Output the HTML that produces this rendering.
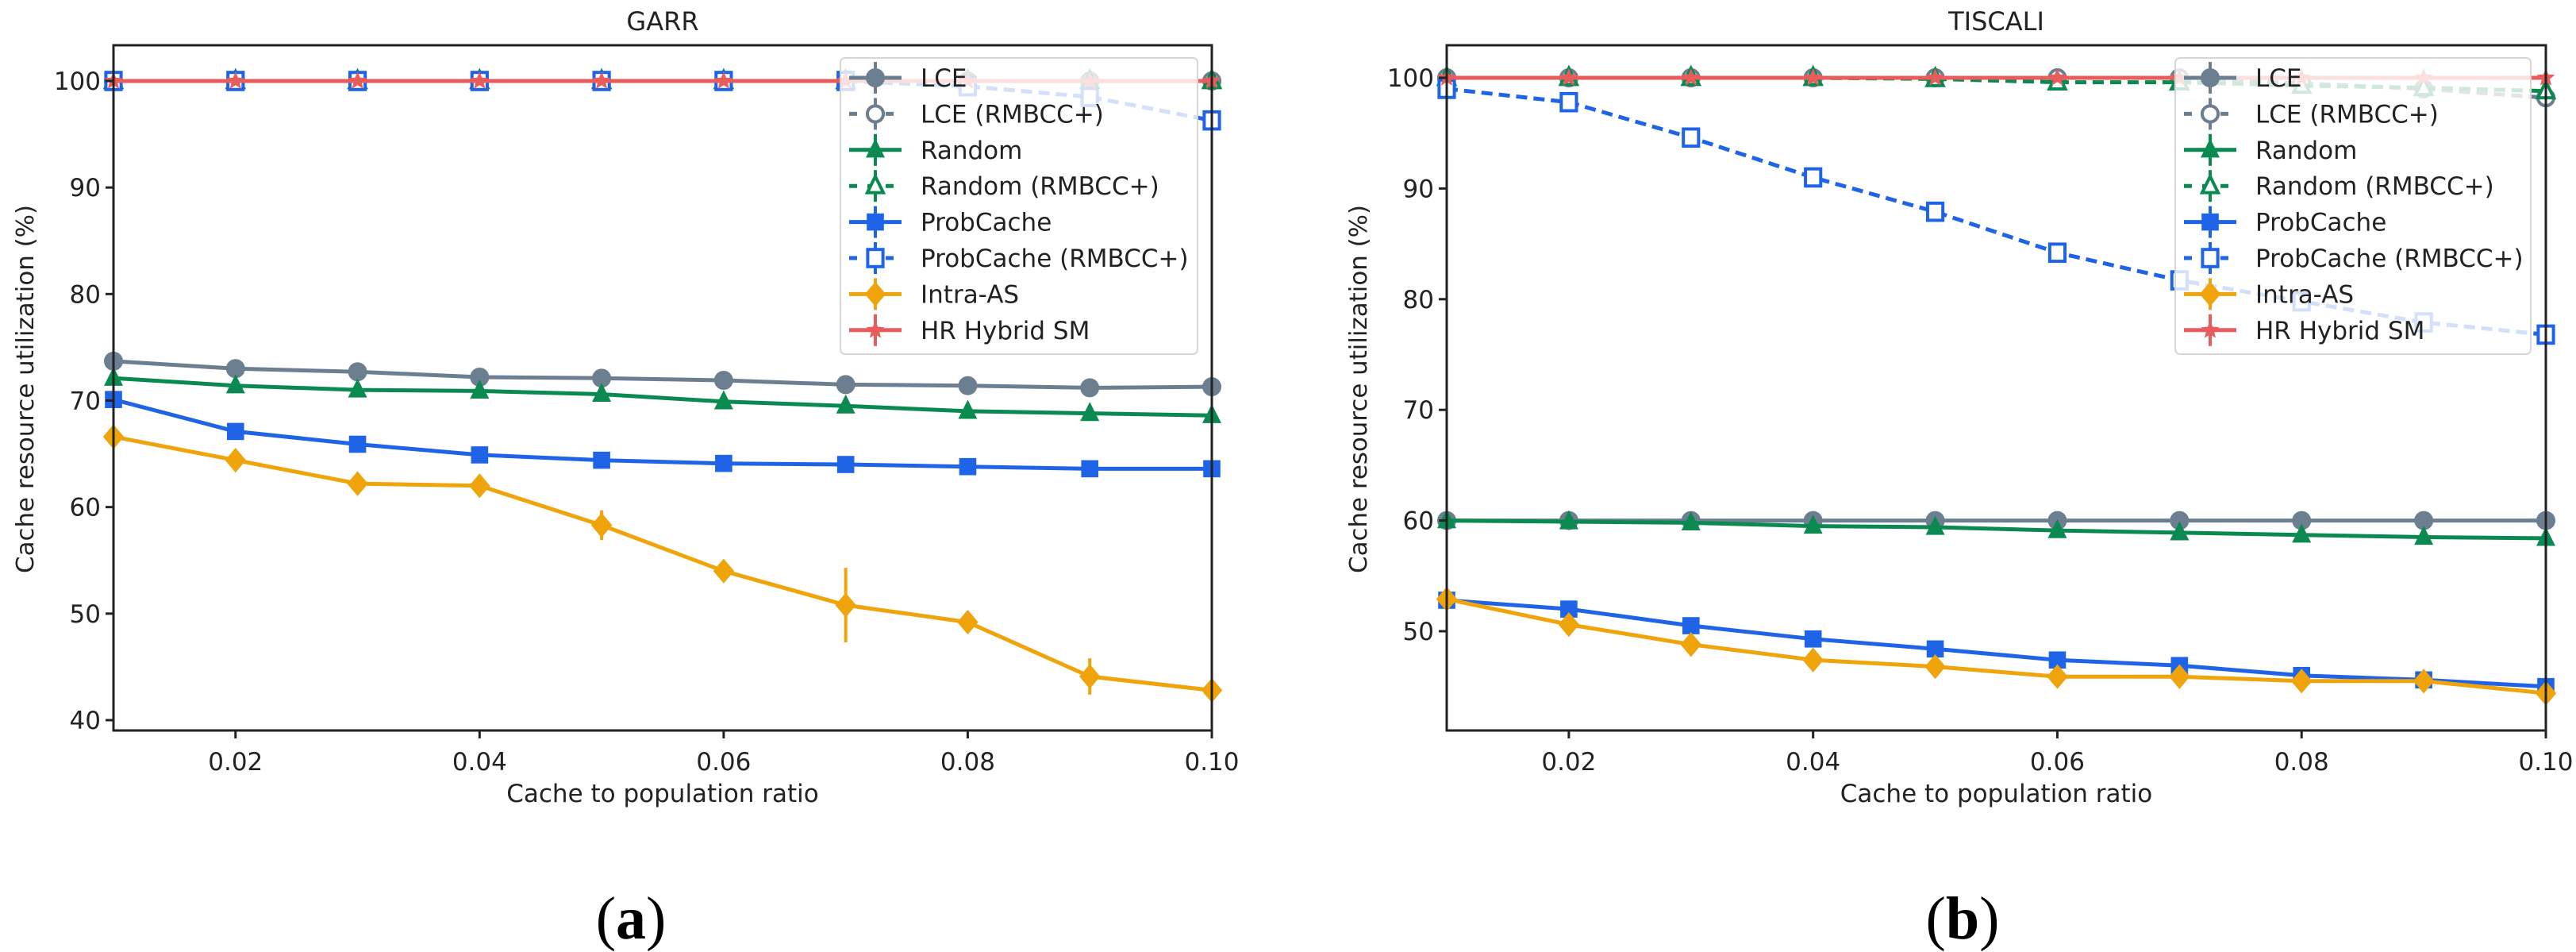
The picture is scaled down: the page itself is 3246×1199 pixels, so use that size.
<!DOCTYPE html>
<html><head><meta charset="utf-8">
<style>
html,body{margin:0;padding:0;background:#fff;}
svg{display:block;font-family:"DejaVu Sans","Liberation Sans",sans-serif;}
</style></head>
<body>
<svg id="fig" width="3246" height="1199" viewBox="0 0 3246 1199" xmlns="http://www.w3.org/2000/svg">
<rect width="3246" height="1199" fill="#fff"/>
</svg>
<script>
const xCats = [0.01,0.02,0.03,0.04,0.05,0.06,0.07,0.08,0.09,0.10];
const xTicks = [0.02,0.04,0.06,0.08,0.10];
const xTickLabels = ["0.02","0.04","0.06","0.08","0.10"];
const seriesNames = ["LCE","LCE (RMBCC+)","Random","Random (RMBCC+)","ProbCache","ProbCache (RMBCC+)","Intra-AS","HR Hybrid SM"];

const garrLCE = [73.7,73.0,72.7,72.2,72.1,71.9,71.5,71.4,71.2,71.3];
const garrLCEr = [100,100,100,100,100,100,100,100,100,100];
const garrRandom = [72.1,71.4,71.0,70.9,70.6,69.9,69.5,69.0,68.8,68.6];
const garrRandomR = [100,100,100,100,100,100,100,100,100,100];
const garrProb = [70.1,67.1,65.9,64.9,64.4,64.1,64.0,63.8,63.6,63.6];
const garrProbR = [100,100,100,100,100,100,100,99.5,98.5,96.3];
const garrIntra = [66.6,64.4,62.2,62.0,58.3,54.0,50.8,49.2,44.1,42.8];
const garrIntraErr = [0.8,0.8,1.0,1.0,1.4,0.8,3.5,1.0,1.7,0.5];
const garrHR = [100,100,100,100,100,100,100,100,100,100];
const garrYTicks = [40,50,60,70,80,90,100];

const tisLCE = [60,60,60,60,60,60,60,60,60,60];
const tisLCEr = [100,100,100,100,100,100,100,99.5,99.0,98.2];
const tisRandom = [60,59.9,59.8,59.5,59.4,59.1,58.9,58.7,58.5,58.4];
const tisRandomR = [100,100,100,100,99.9,99.6,99.6,99.3,99.1,98.8];
const tisProb = [52.8,52.0,50.5,49.3,48.4,47.4,46.9,46.0,45.6,45.0];
const tisProbR = [99.0,97.8,94.6,91.0,87.9,84.2,81.7,79.8,77.9,76.8];
const tisIntra = [52.9,50.6,48.8,47.4,46.8,45.9,45.9,45.5,45.5,44.4];
const tisIntraErr = [0.3,0.3,0.3,0.3,0.3,0.3,0.3,0.3,0.3,0.3];
const tisHR = [100,100,100,100,100,100,100,100,100,100];
const tisYTicks = [50,60,70,80,90,100];

const NS="http://www.w3.org/2000/svg";
const svg=document.getElementById('fig');
function mk(tag,attrs,parent){const e=document.createElementNS(NS,tag);for(const k in attrs)e.setAttribute(k,attrs[k]);(parent||svg).appendChild(e);return e;}

const C={lce:"#6c7f90",rnd:"#0a8a50",prob:"#1f64e6",intra:"#eea40a",hr:"#e85c5c"};

function marker(g,type,cx,cy,color,s){
  let e;
  if(type==="circle"){e=mk('circle',{cx:cx,cy:cy,r:s*0.5,fill:color},g);}
  else if(type==="ocircle"){e=mk('circle',{cx:cx,cy:cy,r:s*0.42,fill:"#fff",stroke:color,"stroke-width":4},g);}
  else if(type==="tri"){e=mk('polygon',{points:`${cx},${cy-s*0.6} ${cx+s*0.5},${cy+s*0.4} ${cx-s*0.5},${cy+s*0.4}`,fill:color},g);}
  else if(type==="otri"){e=mk('polygon',{points:`${cx},${cy-s*0.5} ${cx+s*0.42},${cy+s*0.35} ${cx-s*0.42},${cy+s*0.35}`,fill:"#fff",stroke:color,"stroke-width":4},g);}
  else if(type==="sq"){e=mk('rect',{x:cx-s*0.45,y:cy-s*0.45,width:s*0.9,height:s*0.9,fill:color},g);}
  else if(type==="osq"){e=mk('rect',{x:cx-s*0.4,y:cy-s*0.45,width:s*0.8,height:s*0.9,fill:"#fff",stroke:color,"stroke-width":4},g);}
  else if(type==="dia"){e=mk('polygon',{points:`${cx},${cy-s*0.65} ${cx+s*0.55},${cy} ${cx},${cy+s*0.65} ${cx-s*0.55},${cy}`,fill:color},g);}
  else if(type==="star"){let p=[];for(let i=0;i<10;i++){const r=i%2?s*0.22:s*0.5;const a=-Math.PI/2+i*Math.PI/5;p.push((cx+r*Math.cos(a)).toFixed(1)+","+(cy+r*Math.sin(a)).toFixed(1));}e=mk('polygon',{points:p.join(' '),fill:color},g);}
  return e;
}

function chart(o){
  const root=mk('g',{});
  
  
  const X=v=>o.x0+(v-0.01)/(0.09)*(o.x1-o.x0);
  const Y=v=>o.yA+(v-o.vA)/(o.vB-o.vA)*(o.yB-o.yA);
  const series=[
    {d:o.hr,c:C.hr,m:"star",dash:null,nm:"hr-hybrid-sm"},
    {d:o.probR,c:C.prob,m:"osq",dash:"14,8",nm:"probcache-rmbcc-line"},
    {d:o.rndR,c:C.rnd,m:"otri",dash:"14,8",nm:"random-rmbcc-line"},
    {d:o.lceR,c:C.lce,m:"ocircle",dash:"14,8",nm:"lce-rmbcc-line"},
    {d:o.lce,c:C.lce,m:"circle",dash:null,nm:"lce-line"},
    {d:o.rnd,c:C.rnd,m:"tri",dash:null,nm:"random-line"},
    {d:o.prob,c:C.prob,m:"sq",dash:null,nm:"probcache-line"},
    {d:o.intra,c:C.intra,m:"dia",dash:null,nm:"intra-as-line",err:o.intraErr},
  ];
  const order=[4,5,6,7,3,2,1,0];
  const clipId='clip'+o.name;
  const cp=mk('clipPath',{id:clipId},root);mk('rect',{x:o.x0-20,y:o.top,width:o.x1-o.x0+40,height:o.bot-o.top},cp);
  const pg=mk('g',{'clip-path':`url(#${clipId})`},root);
  order.forEach(i=>{
    const s=series[i];
    const g=mk('g',{},pg);
    
    
    const pts=s.d.map((v,k)=>X(xCats[k]).toFixed(1)+","+Y(v).toFixed(1)).join(' ');
    const a={points:pts,fill:"none",stroke:s.c,"stroke-width":5,"stroke-linejoin":"round"};
    if(s.dash)a["stroke-dasharray"]=s.dash;
    mk('polyline',a,g);
    if(s.err){s.d.forEach((v,k)=>{const l=mk('line',{x1:X(xCats[k]),x2:X(xCats[k]),y1:Y(v-s.err[k]),y2:Y(v+s.err[k]),stroke:s.c,"stroke-width":4},g);});}
    s.d.forEach((v,k)=>{const e=marker(g,s.m,X(xCats[k]),Y(v),s.c,24);});
  });
  const fr=mk('rect',{x:o.x0,y:o.top,width:o.x1-o.x0,height:o.bot-o.top,fill:"none",stroke:"#222","stroke-width":3},root);
  
  o.yTicks.forEach(t=>{
    const y=Y(t);
    mk('line',{x1:o.x0-10,x2:o.x0,y1:y,y2:y,stroke:"#222","stroke-width":3},root);
    const tx=mk('text',{x:o.x0-16,y:y+11,"text-anchor":"end","font-size":31,fill:"#222"},root);
    tx.textContent=t;
    
  });
  xTicks.forEach((t,i)=>{
    const x=X(t);
    mk('line',{x1:x,x2:x,y1:o.bot,y2:o.bot+10,stroke:"#222","stroke-width":3},root);
    const tx=mk('text',{x:x,y:o.bot+50,"text-anchor":"middle","font-size":31,fill:"#222"},root);
    tx.textContent=xTickLabels[i];
    
  });
  const ti=mk('text',{x:(o.x0+o.x1)/2,y:38,"text-anchor":"middle","font-size":32,fill:"#222"},root);
  ti.textContent=o.title;
  const xl=mk('text',{x:(o.x0+o.x1)/2,y:1010,"text-anchor":"middle","font-size":31,fill:"#222"},root);
  xl.textContent="Cache to population ratio";
  const yl=mk('text',{x:0,y:0,"text-anchor":"middle","font-size":30,fill:"#222",transform:`translate(${o.ylx},490) rotate(-90)`,textLength:464,lengthAdjust:"spacingAndGlyphs"},root);
  yl.textContent="Cache resource utilization (%)";
  const lg=mk('g',{},root);
  
  mk('rect',{x:o.lx,y:73,width:o.lw,height:373,rx:6,fill:"#fff","fill-opacity":0.8,stroke:"#d6d6d6","stroke-width":2},lg);
  const leg=[[C.lce,"circle",null],[C.lce,"ocircle","12,8"],[C.rnd,"tri",null],[C.rnd,"otri","12,8"],[C.prob,"sq",null],[C.prob,"osq","12,8"],[C.intra,"dia",null],[C.hr,"star",null]];
  leg.forEach((L,i)=>{
    const y=98+i*45.4;
    const eg=mk('g',{},lg);
    
    const a={x1:o.lx+11,x2:o.lx+77,y1:y,y2:y,stroke:L[0],"stroke-width":5};
    if(L[2])a["stroke-dasharray"]="10,13";
    mk('line',a,eg);
    mk('line',{x1:o.lx+44,x2:o.lx+44,y1:y-20,y2:y+20,stroke:L[0],"stroke-width":4},eg);
    marker(eg,L[1],o.lx+44,y,L[0],24);
    const t=mk('text',{x:o.lx+101,y:y+11,"font-size":31,fill:"#222"},eg);
    t.textContent=seriesNames[i];
  });
  const cap=mk('text',{x:o.capx,y:1182,"text-anchor":"middle","font-size":76,fill:"#000","font-family":"Liberation Serif, serif"},root);
  cap.innerHTML=o.cap;
}

chart({name:"garr-chart",title:"GARR",x0:143,x1:1527,top:57,bot:920,yA:102,vA:100,yB:907,vB:40,
  lce:garrLCE,lceR:garrLCEr,rnd:garrRandom,rndR:garrRandomR,prob:garrProb,probR:garrProbR,intra:garrIntra,intraErr:garrIntraErr,hr:garrHR,
  yTicks:garrYTicks,ylx:42,lx:1059,lw:450,capx:795,cap:'(<tspan font-weight="bold">a</tspan>)'});
chart({name:"tiscali-chart",title:"TISCALI",x0:1823,x1:3208,top:57,bot:920,yA:98,vA:100,yB:795,vB:50,
  lce:tisLCE,lceR:tisLCEr,rnd:tisRandom,rndR:tisRandomR,prob:tisProb,probR:tisProbR,intra:tisIntra,intraErr:tisIntraErr,hr:tisHR,
  yTicks:tisYTicks,ylx:1722,lx:2741,lw:448,capx:2473,cap:'(<tspan font-weight="bold">b</tspan>)'});
</script>
</body></html>
